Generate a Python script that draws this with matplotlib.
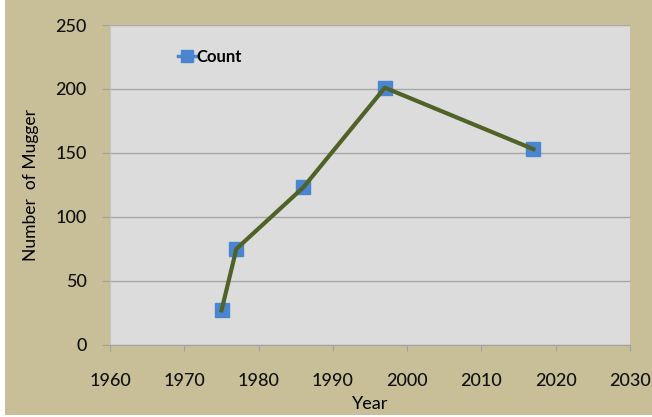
import matplotlib.pyplot as plt
from matplotlib.lines import Line2D
from matplotlib.patches import Rectangle

years = [1975, 1977, 1986, 1997, 2017]
counts = [27, 75, 123, 201, 153]
x_ticks = [1960, 1970, 1980, 1990, 2000, 2010, 2020, 2030]
y_ticks = [0, 50, 100, 150, 200, 250]

plt.rcParams['font.family'] = ['Lato', 'DejaVu Sans']
plt.rcParams['font.weight'] = 'medium'

fig = plt.figure(figsize=(6.52, 4.17), dpi=100)
fig.patch.set_facecolor('#c8bf98')
# thin white strips at the left and bottom edge
fig.patches.append(Rectangle((0, 0), 5 / 652, 1, transform=fig.transFigure,
                             facecolor='white', edgecolor='none'))
fig.patches.append(Rectangle((0, 0), 1, 2 / 417, transform=fig.transFigure,
                             facecolor='white', edgecolor='none'))

ax = fig.add_axes([0.169, 0.173, 0.797, 0.767])
ax.set_facecolor('#dcdcdc')

ax.plot(years, counts, color='#4f6228', linewidth=3, zorder=3)
ax.plot(years, counts, linestyle='none', marker='s', markersize=10,
        color='#4a86d0', zorder=2)

ax.set_xlim(1960, 2030)
ax.set_ylim(0, 250)
ax.set_xticks(x_ticks)
ax.set_yticks(y_ticks)
ax.yaxis.grid(True, color='#a8a8a8', linewidth=1)
ax.set_axisbelow(True)

for s in ['top', 'right']:
    ax.spines[s].set_visible(False)
ax.spines['left'].set_color('#c4c4c4')
ax.spines['bottom'].set_color('#a0a0a0')
ax.tick_params(axis='both', colors='#a0a0a0', labelcolor='#111111',
               labelsize=13)
ax.tick_params(axis='x', length=4, pad=16)
ax.tick_params(axis='y', length=6, pad=11)

ax.set_xlabel('Year', fontsize=13, labelpad=5)
ax.set_ylabel('Number  of Mugger', fontsize=12.5, labelpad=12,
              family=['Liberation Sans Narrow', 'Lato'])

handle = Line2D([], [], color='#4a86d0', marker='s', markersize=8, linewidth=2.5)
ax.legend([handle], ['Count'], loc='center left', bbox_to_anchor=(0.102, 0.9),
          frameon=False, handlelength=1.1, handletextpad=0.0,
          prop={'weight': 'bold', 'size': 12})

fig.savefig('out.png', dpi=100, facecolor=fig.get_facecolor())
